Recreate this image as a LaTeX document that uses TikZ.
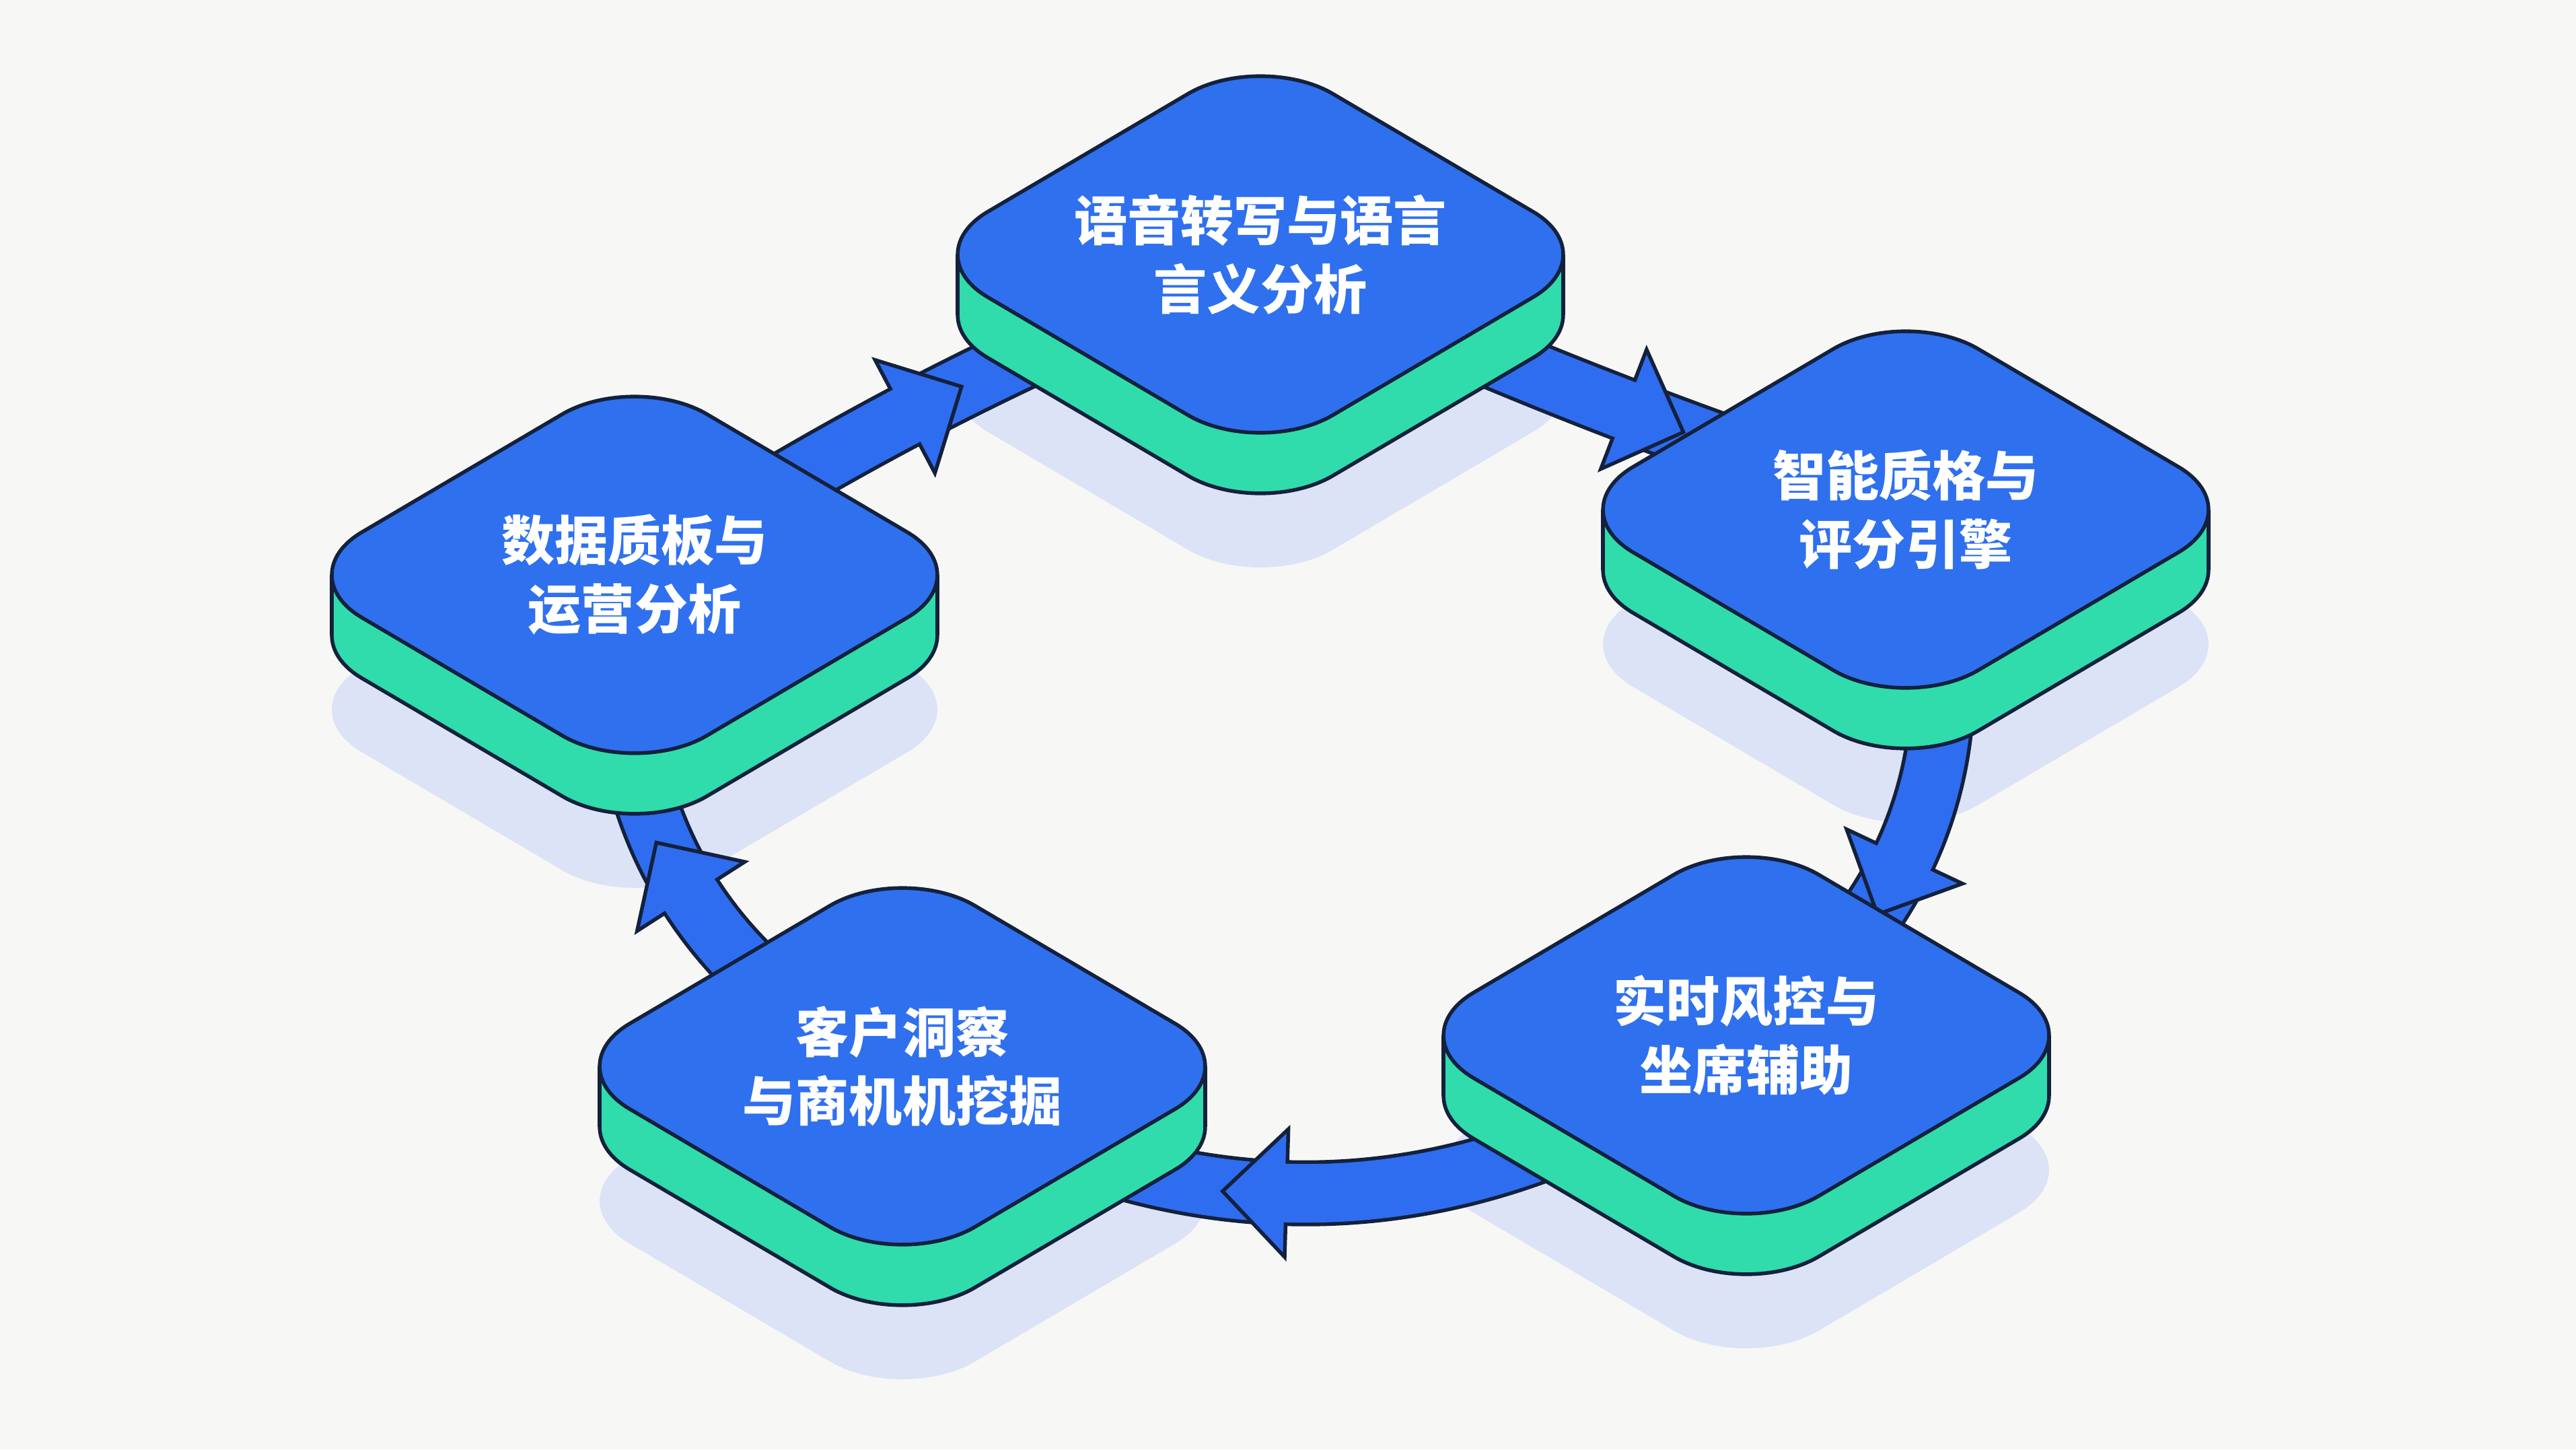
\documentclass[tikz,border=0pt]{standalone}
\usepackage{fontspec}
\usepackage{tikz}
\usetikzlibrary{arrows.meta,positioning,shapes.geometric}
\newfontfamily\cjk{Noto Sans CJK SC}
\definecolor{ink}{HTML}{14213D}
\definecolor{paper}{HTML}{F7F7F5}
\definecolor{slabtop}{HTML}{2F70EF}
\definecolor{slabside}{HTML}{30DCAC}
\definecolor{flow}{HTML}{2F6DF0}
\definecolor{haze}{HTML}{DCE3F6}
\pgfdeclarelayer{bg}
\pgfdeclarelayer{shade}
\pgfdeclarelayer{links}
\pgfdeclarelayer{side}
\pgfsetlayers{bg,shade,links,side,main}

\begin{document}
\begin{tikzpicture}[
  slab/.style={diamond,aspect=1.7,minimum width=10.26cm,minimum height=6.04cm,inner sep=0pt,outer sep=0pt,rounded corners=1.25cm,draw=ink,line width=0.55mm,fill=slabtop,text=white,align=center,font=\cjk\bfseries\fontsize{22.5}{29}\selectfont},
  sidewall/.style={rounded corners=1.25cm,draw=ink,line width=0.55mm,fill=slabside},
  ghost/.style={rounded corners=1.25cm,fill=haze},
  band/.style={line width=9.8mm,draw=ink},
  bandfill/.style={line width=8.7mm,draw=flow},
  head/.style={isosceles triangle,isosceles triangle stretches,sloped,allow upside down,anchor=lower side,minimum height=9.5mm,minimum width=19mm,inner sep=0pt,outer sep=0pt,fill=flow,draw=ink,line width=0.55mm},
  seam/.style={sloped,allow upside down,minimum width=1.4mm,minimum height=8.7mm,inner sep=0pt,outer sep=0pt,fill=flow}
]
\useasboundingbox (0,0) rectangle (38.28,-21.53);
\begin{pgfonlayer}{bg}
  \fill[paper] (0,0) rectangle (38.28,-21.53);
\end{pgfonlayer}

% five stages
\foreach \nm/\loc/\txt in {
    asr/{18.73,-3.78}/{语音转写与语言\\言义分析},
    qa/{28.32,-7.57}/{智能质格与\\评分引擎},
    risk/{25.95,-15.38}/{实时风控与\\坐席辅助},
    mining/{13.41,-15.84}/{客户洞察\\与商机机挖掘},
    ops/{9.43,-8.54}/{数据质板与\\运营分析}} {
  \node[slab] (\nm) at (\loc) {\txt};
  \begin{pgfonlayer}{side}
    \path[sidewall] ([yshift=-9mm]\nm.west) -- ([yshift=-9mm]\nm.north) -- ([yshift=-9mm]\nm.east) -- ([yshift=-9mm]\nm.south) -- cycle;
    \fill[slabside] ([xshift=6.3mm]\nm.west) rectangle ([xshift=-6.3mm,yshift=-9mm]\nm.east);
    \draw[ink,line width=0.55mm] ([xshift=6.3mm]\nm.west) -- ++(0,-0.9);
    \draw[ink,line width=0.55mm] ([xshift=-6.3mm]\nm.east) -- ++(0,-0.9);
  \end{pgfonlayer}
  \begin{pgfonlayer}{shade}
    \path[ghost] ([yshift=-20mm]\nm.west) -- ([yshift=-20mm]\nm.north) -- ([yshift=-20mm]\nm.east) -- ([yshift=-20mm]\nm.south) -- cycle;
  \end{pgfonlayer}
}

% cycle arrows
\begin{pgfonlayer}{links}
\foreach \a/\b/\ang/\p in {asr/qa/-3/.575, qa/risk/40/.6, risk/mining/35/.55, mining/ops/40/.45, ops/asr/5/.44} {
  \draw[band] (\a.center) to[bend left=\ang] (\b.center);
  \draw[bandfill] (\a.center) to[bend left=\ang] node[pos=\p,head]{} node[pos=\p,seam]{} (\b.center);
}
\end{pgfonlayer}
\end{tikzpicture}
\end{document}
